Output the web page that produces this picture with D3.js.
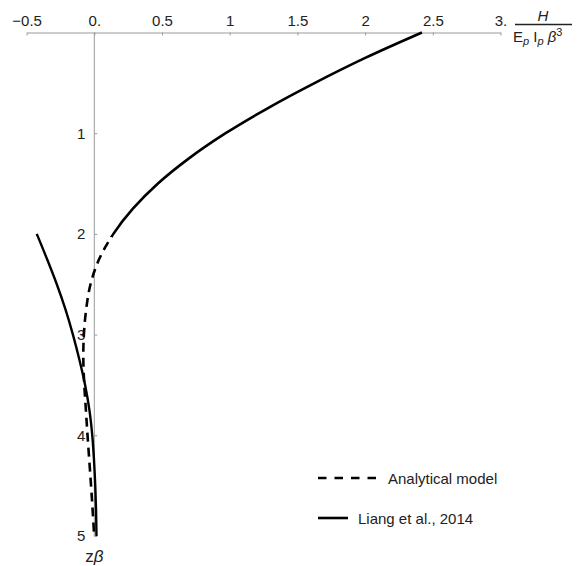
<!DOCTYPE html>
<html>
<head>
<meta charset="utf-8">
<script src="https://cdn.jsdelivr.net/npm/d3@7"></script>
<style>
  html, body { margin: 0; padding: 0; background: #fff; }
  svg { display: block; font-family: "Liberation Sans", Arial, sans-serif; }
</style>
</head>
<body>
<svg id="chart" width="583" height="566"></svg>
<script>
// Lateral load H / (Ep Ip β³) versus normalised depth zβ
const xTicks = [-0.5, 0, 0.5, 1, 1.5, 2, 2.5, 3];
const xTickLabels = ["\u22120.5", "0.", "0.5", "1", "1.5", "2", "2.5", "3."];
const yTicks = [1, 2, 3, 4, 5];
const yTickLabels = ["1", "2", "3", "4", "5"];

// Analytical model: depth zβ and normalised load
const analyticalDepth = [0, 0.25, 0.5, 0.75, 1.0, 1.25, 1.5, 1.75, 2.0, 2.25, 2.5, 2.75, 3.0, 3.25, 3.5, 3.75, 4.0, 4.25, 4.5, 4.75, 5.0];
const analyticalLoad  = [2.42, 2.005, 1.63, 1.283, 0.97, 0.699, 0.47, 0.285, 0.141, 0.036, -0.028, -0.06, -0.077, -0.081, -0.074, -0.062, -0.05, -0.037, -0.024, -0.012, -0.001];
// The analytical curve is drawn solid down to this depth, dashed below it
const analyticalSolidTo = 2.03;

// Liang et al., 2014
const liangDepth = [2.0, 2.25, 2.5, 2.75, 3.0, 3.25, 3.5, 3.75, 4.0, 4.25, 4.5, 4.75, 5.0];
const liangLoad  = [-0.425, -0.349, -0.277, -0.213, -0.158, -0.110, -0.068, -0.036, -0.015, -0.002, 0.007, 0.013, 0.016];

const legendItems = [
  { label: "Analytical model", dashed: true },
  { label: "Liang et al., 2014", dashed: false }
];

const svg = d3.select("#chart");
const axisColor = "#9a9a9a";
const textColor = "#222";
const font = "Liberation Sans, Arial, sans-serif";
const fontSize = 15;

const x = d3.scaleLinear().domain([-0.5, 3]).range([26.6, 500.5]);
const y = d3.scaleLinear().domain([0, 5]).range([32.5, 536]);

// Top axis with ticks pointing into the plot
const xAxis = d3.axisTop(x)
  .tickValues(xTicks)
  .tickFormat((d, i) => xTickLabels[i])
  .tickSizeInner(-3)
  .tickSizeOuter(0)
  .tickPadding(7);

const gx = svg.append("g").attr("transform", `translate(0,${y(0)})`).call(xAxis);
gx.select(".domain").attr("stroke", axisColor).attr("stroke-width", 1);
gx.selectAll(".tick line").attr("stroke", axisColor);
gx.selectAll(".tick text").attr("fill", textColor).attr("font-size", fontSize).attr("font-family", font);

// Vertical axis through H = 0
const yAxis = d3.axisLeft(y)
  .tickValues(yTicks)
  .tickFormat((d, i) => yTickLabels[i])
  .tickSizeInner(-3)
  .tickSizeOuter(0)
  .tickPadding(9);

const gy = svg.append("g").attr("transform", `translate(${x(0)},0)`).call(yAxis);
gy.select(".domain").attr("stroke", axisColor).attr("stroke-width", 1)
  .attr("d", `M0,${y(0)}V${y(5)}`);
gy.selectAll(".tick line").attr("stroke", axisColor);
gy.selectAll(".tick text").attr("fill", textColor).attr("font-size", fontSize).attr("font-family", font);

// Curves
const line = d3.line().x(d => x(d[1])).y(d => y(d[0])).curve(d3.curveCatmullRom.alpha(0.5));

const analytical = analyticalDepth.map((z, i) => [z, analyticalLoad[i]]);
const liang = liangDepth.map((z, i) => [z, liangLoad[i]]);

// Clip regions above and below the solid/dashed split depth
const defs = svg.append("defs");
defs.append("clipPath").attr("id", "upper").append("rect")
  .attr("x", 0).attr("y", 0).attr("width", 583).attr("height", y(analyticalSolidTo));
defs.append("clipPath").attr("id", "lower").append("rect")
  .attr("x", 0).attr("y", y(analyticalSolidTo)).attr("width", 583).attr("height", 566 - y(analyticalSolidTo));

const dashLen = 9, gapLen = 6;

svg.append("path")
  .datum(analytical)
  .attr("d", line)
  .attr("clip-path", "url(#upper)")
  .attr("fill", "none").attr("stroke", "#000").attr("stroke-width", 2.6);

const dashed = svg.append("path")
  .datum(analytical)
  .attr("d", line)
  .attr("clip-path", "url(#lower)")
  .attr("fill", "none").attr("stroke", "#000").attr("stroke-width", 2.6)
  .attr("stroke-dasharray", `${dashLen},${gapLen}`);

// Start the dash pattern one gap below the split depth
{
  const node = dashed.node();
  const total = node.getTotalLength();
  const target = y(analyticalSolidTo);
  let lo = 0, hi = total;
  for (let k = 0; k < 40; k++) {
    const mid = (lo + hi) / 2;
    if (node.getPointAtLength(mid).y < target) lo = mid; else hi = mid;
  }
  dashed.attr("stroke-dashoffset", -(lo + gapLen));
}

svg.append("path")
  .datum(liang)
  .attr("d", line)
  .attr("fill", "none").attr("stroke", "#000").attr("stroke-width", 2.4);

// Horizontal axis title as a fraction
const frac = svg.append("g").attr("fill", textColor).attr("font-family", font);
frac.append("text").attr("x", 543).attr("y", 21).attr("text-anchor", "middle")
  .attr("font-size", 15).attr("font-style", "italic").text("H");
frac.append("line").attr("x1", 515).attr("x2", 572).attr("y1", 24.5).attr("y2", 24.5)
  .attr("stroke", textColor).attr("stroke-width", 1.3);
const den = frac.append("text").attr("x", 513).attr("y", 42).attr("font-size", 15);
den.append("tspan").text("E");
den.append("tspan").attr("font-size", 11).attr("font-style", "italic").attr("dy", 3).text("p");
den.append("tspan").attr("dy", -3).text(" I");
den.append("tspan").attr("font-size", 11).attr("font-style", "italic").attr("dy", 3).text("p");
den.append("tspan").attr("dy", -3).attr("font-style", "italic").text(" \u03B2");
den.append("tspan").attr("font-size", 11).attr("dy", -6).text("3");

// Vertical axis title
const zt = svg.append("text").attr("x", x(0)).attr("y", 562).attr("text-anchor", "middle")
  .attr("font-size", 17).attr("fill", textColor).attr("font-family", font);
zt.append("tspan").text("z");
zt.append("tspan").attr("font-style", "italic").text("\u03B2");

// Legend
const legend = svg.append("g").attr("transform", "translate(318,478)");
legendItems.forEach((item, i) => {
  const g = legend.append("g").attr("transform", `translate(0,${i * 40})`);
  g.append("line").attr("x1", 0).attr("x2", item.dashed ? 60 : 30).attr("y1", 0).attr("y2", 0)
    .attr("stroke", "#000").attr("stroke-width", 2.6)
    .attr("stroke-dasharray", item.dashed ? "8.5,8" : null);
  g.append("text").attr("x", item.dashed ? 70 : 40).attr("y", 5.5)
    .attr("font-size", fontSize).attr("fill", textColor).attr("font-family", font).text(item.label);
});
</script>
</body>
</html>
